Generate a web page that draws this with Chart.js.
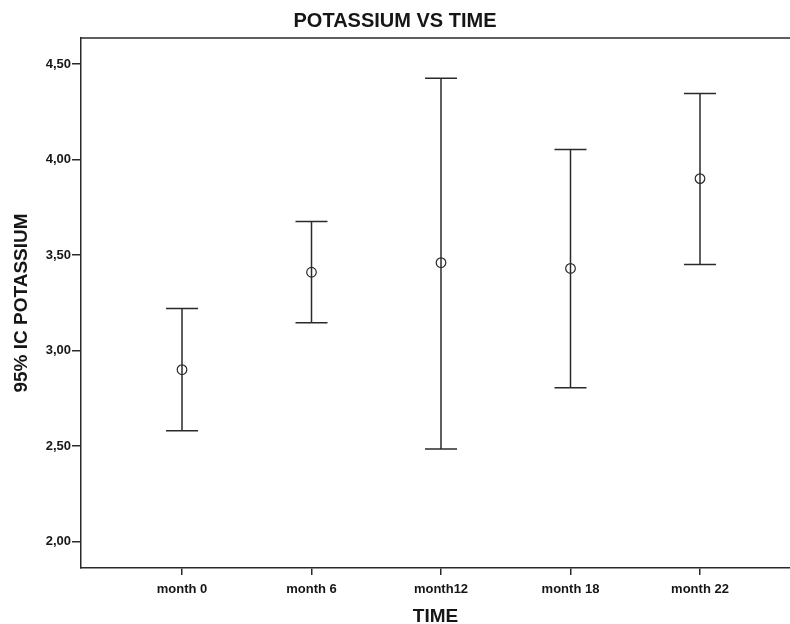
<!DOCTYPE html>
<html>
<head>
<meta charset="utf-8">
<script src="https://cdn.jsdelivr.net/npm/chart.js@4/dist/chart.umd.min.js"></script>
<style>
  html,body{margin:0;padding:0;background:#fff;overflow:hidden;}
  #wrap{width:790px;height:624px;}
  #chart{display:block;}
</style>
</head>
<body>
<div id="wrap"><canvas id="chart" width="790" height="624"></canvas></div>
<script>
/* ===== 資料 ===== */
const categories=['month 0','month 6','month12','month 18','month 22'];
const means=[2.90, 3.41, 3.46, 3.43, 3.90];
const lower=[2.58, 3.145, 2.485, 2.805, 3.45];
const upper=[3.22, 3.675, 4.425, 4.053, 4.345];
const yTicks=[2.00, 2.50, 3.00, 3.50, 4.00, 4.50];

/* ===== 樣式 ===== */
const INK='#2a2a2a';
const TXT='#161616';

/* 每個時間點一條誤差線（端點用 line 樣式畫橫帽） */
const whiskers=categories.map((c,i)=>({
  label:'ci '+c,
  data:[{x:i,y:lower[i]},{x:i,y:upper[i]}],
  showLine:true,
  borderColor:INK,
  borderWidth:1.5,
  pointStyle:'line',
  pointRadius:16,
  pointHoverRadius:16,
  pointBorderColor:INK,
  pointBorderWidth:1.5
}));

const meanSet={
  label:'mean',
  data:means.map((m,i)=>({x:i,y:m})),
  pointStyle:'circle',
  pointRadius:4.8,
  pointHoverRadius:4.8,
  pointBackgroundColor:'rgba(0,0,0,0)',
  pointBorderColor:INK,
  pointBorderWidth:1.2
};

/* 只畫上框線（右側無框） */
const topLine={
  id:'topLine',
  afterDraw(chart){
    const {ctx,chartArea}=chart;
    ctx.save();
    ctx.strokeStyle=INK; ctx.lineWidth=1.5;
    ctx.beginPath();
    ctx.moveTo(chartArea.left-0.75,chartArea.top);
    ctx.lineTo(chartArea.right,chartArea.top);
    ctx.stroke();
    ctx.restore();
  }
};

new Chart(document.getElementById('chart'),{
  type:'scatter',
  data:{datasets:[...whiskers, meanSet]},
  plugins:[topLine],
  options:{
    responsive:false,
    animation:false,
    layout:{autoPadding:false,padding:0},   // 端帽半徑不要撐開版面
    plugins:{
      legend:{display:false},
      tooltip:{enabled:false},
      title:{
        display:true,
        text:'POTASSIUM VS TIME',
        color:TXT,
        font:{family:'Liberation Sans, Arial, sans-serif',size:20,weight:'bold'},
        padding:{top:9,bottom:5}
      }
    },
    scales:{
      x:{
        type:'linear',
        min:-0.78, max:4.695,
        afterBuildTicks:s=>{ s.ticks=categories.map((c,i)=>({value:i})); },
        afterFit:s=>{ s.height=56; s.paddingLeft=0; s.paddingRight=0; },
        ticks:{
          autoSkip:false,
          maxRotation:0,
          padding:7,
          color:TXT,
          font:{family:'Liberation Sans, Arial, sans-serif',size:13,weight:'bold'},
          callback:(v,i)=>categories[i]
        },
        grid:{drawOnChartArea:false,drawTicks:true,tickLength:7,tickColor:INK,lineWidth:1.5},
        border:{display:true,color:INK,width:1.5},
        title:{
          display:true,
          text:'TIME',
          color:TXT,
          font:{family:'Liberation Sans, Arial, sans-serif',size:19,weight:'bold',lineHeight:1},
          padding:{top:0,bottom:-2}
        }
      },
      y:{
        type:'linear',
        min:1.862, max:4.636,
        afterBuildTicks:s=>{ s.ticks=yTicks.map(v=>({value:v})); },
        afterFit:s=>{ s.width=81; s.paddingTop=0; s.paddingBottom=0; },
        ticks:{
          padding:1,
          color:TXT,
          font:{family:'Liberation Sans, Arial, sans-serif',size:13,weight:'bold'},
          callback:v=>v.toFixed(2).replace('.',',')
        },
        grid:{drawOnChartArea:false,drawTicks:true,tickLength:9,tickColor:INK,lineWidth:1.5},
        border:{display:true,color:INK,width:1.5},
        title:{
          display:true,
          text:'95% IC POTASSIUM',
          color:TXT,
          font:{family:'Liberation Sans, Arial, sans-serif',size:19,weight:'bold'},
          padding:{top:10,bottom:0}
        }
      }
    }
  }
});
</script>
</body>
</html>
